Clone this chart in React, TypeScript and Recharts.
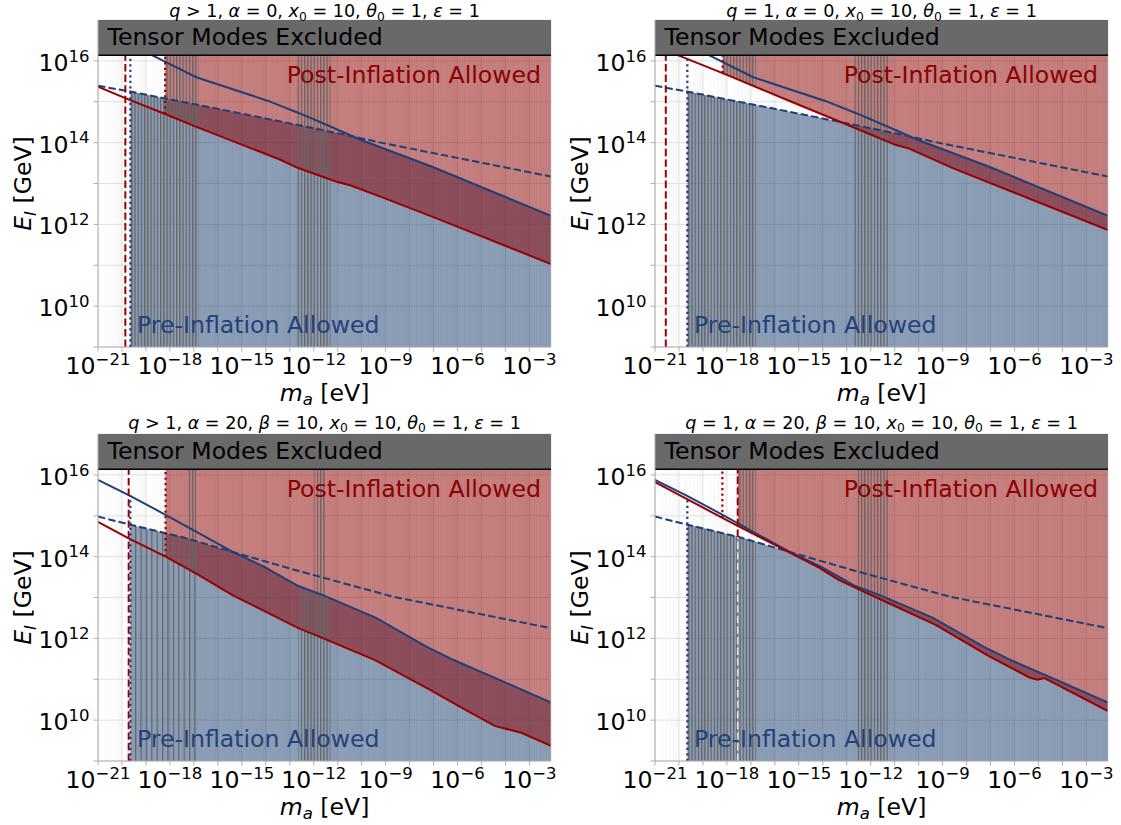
import React from 'react';
import { ComposedChart, Area, Line, XAxis, YAxis, CartesianGrid } from 'recharts';

type Pt = [number, number];
type BandPt = [number, number, number];
type Seg = [string, string?];

const FONT = "'DejaVu Sans', sans-serif";
const X_MIN = -21;
const X_MAX = -2.1;
const Y_MIN = 9;
const Y_MAX = 17;
const T_E = 16.14;

const X_TICKS = [-21, -20, -19, -18, -17, -16, -15, -14, -13, -12, -11, -10, -9, -8, -7, -6, -5, -4, -3];
const X_LABEL_TICKS = [-21, -18, -15, -12, -9, -6, -3];
const Y_TICKS = [9, 10, 11, 12, 13, 14, 15, 16];
const Y_LABEL_TICKS = [10, 12, 14, 16];

// ---- alpha = 0 panels (top row) ----
const DASH_ALPHA0: Pt[] = [[-21, 15.39], [-19.65, 15.25], [-18.2, 15.08], [-16.8, 14.92], [-13.4, 14.52], [-10.9, 14.22], [-9.2, 14.0], [-2.1, 13.17]];
const BLUE_ALPHA0: Pt[] = [[-18.75, 16.14], [-16.9, 15.6], [-13.9, 15.02], [-12.6, 14.72], [-11.4, 14.42], [-10.05, 14.07], [-7.06, 13.41], [-2.1, 12.21]];
const CROSS_ALPHA0: Pt = [-10.35, 14.15];
const RED_P1: Pt[] = [[-21, 15.37], [-19.86, 15.09], [-18.2, 14.7], [-16.87, 14.38], [-13.39, 13.58], [-12.7, 13.39], [-11.07, 13.05], [-10.45, 12.95], [-9.22, 12.68], [-7.06, 12.19], [-2.1, 11.03]];
const RED_P2: Pt[] = [[-20.05, 16.14], [-18.18, 15.7], [-15.51, 15.05], [-13.28, 14.51], [-10.94, 13.94], [-10.42, 13.86], [-8.55, 13.37], [-5.55, 12.67], [-2.1, 11.86]];

// ---- alpha = 20 panels (bottom row) ----
const DASH_ALPHA20: Pt[] = [[-21, 14.98], [-19.65, 14.78], [-17.5, 14.48], [-15.3, 14.1], [-12.7, 13.66], [-8.7, 13.02], [-2.1, 12.25]];
const BLUE_ALPHA20: Pt[] = [[-21, 15.88], [-19.7, 15.5], [-18.2, 15.03], [-17.5, 14.8], [-15.4, 14.12], [-14.1, 13.76], [-12.64, 13.28], [-11.67, 13.07], [-9.4, 12.5], [-7.3, 11.8], [-6.16, 11.47], [-4.23, 10.98], [-2.1, 10.43]];
const CROSS_ALPHA20: Pt = [-15.4, 14.12];
const RED_P3: Pt[] = [[-21, 14.85], [-19.74, 14.45], [-18.18, 14.0], [-16.88, 13.58], [-15.39, 13.06], [-12.64, 12.25], [-11.67, 12.02], [-9.44, 11.47], [-7.2, 10.76], [-5.72, 10.27], [-4.45, 9.86], [-3.34, 9.69], [-2.1, 9.37]];
const RED_P4: Pt[] = [[-21, 15.82], [-18.19, 14.95], [-17.55, 14.75], [-14.12, 13.72], [-13.34, 13.43], [-11.24, 12.86], [-9.29, 12.33], [-7.05, 11.56], [-5.4, 11.05], [-5.05, 10.99], [-4.75, 11.03], [-2.1, 10.22]];

// ---- vertical limit lines ----
const P1_RED_DASH: Pt[] = [[-19.86, 9], [-19.86, T_E]];
const P1_BLUE_DOT: Pt[] = [[-19.65, 9], [-19.65, T_E]];
const P1_RED_DOT: Pt[] = [[-18.2, 14.7], [-18.2, T_E]];
const P2_RED_DASH: Pt[] = [[-20.55, 9], [-20.55, T_E]];
const P2_BLUE_DOT: Pt[] = [[-19.65, 9], [-19.65, T_E]];
const P2_RED_DOT: Pt[] = [[-18.18, 15.7], [-18.18, T_E]];
const P3_RED_DASH: Pt[] = [[-19.72, 9], [-19.72, T_E]];
const P3_BLUE_DOT: Pt[] = [[-19.65, 9], [-19.65, 15.5]];
const P3_RED_DOT: Pt[] = [[-18.18, 14.0], [-18.18, T_E]];
const P4_RED_DASH: Pt[] = [[-17.55, 14.48], [-17.55, T_E]];
const P4_RED_DASH_LIGHT: Pt[] = [[-17.55, 9], [-17.55, 14.48]];
const P4_BLUE_DOT: Pt[] = [[-19.65, 9], [-19.65, 15.46]];
const P4_RED_DOT: Pt[] = [[-18.19, 14.95], [-18.19, T_E]];

// ---- excluded (hatched) mass windows: x, low, high ----
const P1_HATCH: BandPt[][] = [
  [[-19.65, 9, 15.25], [-18.2, 9, 15.08], [-16.8, 9, 14.92]],
  [[-18.2, 14.7, T_E], [-16.8, 14.36, T_E]],
  [[-12.71, 9, T_E], [-11.3, 9, T_E]],
];
const P2_HATCH: BandPt[][] = [
  [[-19.65, 9, 15.25], [-18.18, 9, 15.08], [-16.78, 9, 14.92]],
  [[-18.18, 15.7, T_E], [-16.78, 15.36, T_E]],
  [[-12.71, 9, T_E], [-11.28, 9, T_E]],
];
const P3_HATCH: BandPt[][] = [
  [[-17.25, 13.71, T_E], [-16.9, 13.61, T_E]],
  [[-12.64, 9, 13.28], [-11.67, 9, 13.07], [-11.3, 9, 12.98]],
  [[-11.97, 12.11, T_E], [-11.52, 11.99, T_E]],
];
const P3_HATCH_SPARSE: BandPt[][] = [
  [[-19.63, 9, 14.78], [-17.5, 9, 14.48], [-16.8, 9, 14.36]],
];
const P4_HATCH: BandPt[][] = [
  [[-19.62, 9, 14.79], [-17.5, 9, 14.48], [-16.78, 9, 14.36]],
  [[-17.55, 14.75, T_E], [-16.78, 14.52, T_E]],
  [[-12.59, 9, T_E], [-11.28, 9, T_E]],
];

const TITLE_TOP_LEFT: Seg[] = [['q', 'i'], [' > 1, '], ['α', 'i'], [' = 0, '], ['x', 'i'], ['0', 'sub'], [' = 10, '], ['θ', 'i'], ['0', 'sub'], [' = 1, '], ['ε', 'i'], [' = 1']];
const TITLE_TOP_RIGHT: Seg[] = [['q', 'i'], [' = 1, '], ['α', 'i'], [' = 0, '], ['x', 'i'], ['0', 'sub'], [' = 10, '], ['θ', 'i'], ['0', 'sub'], [' = 1, '], ['ε', 'i'], [' = 1']];
const TITLE_BOT_LEFT: Seg[] = [['q', 'i'], [' > 1, '], ['α', 'i'], [' = 20, '], ['β', 'i'], [' = 10, '], ['x', 'i'], ['0', 'sub'], [' = 10, '], ['θ', 'i'], ['0', 'sub'], [' = 1, '], ['ε', 'i'], [' = 1']];
const TITLE_BOT_RIGHT: Seg[] = [['q', 'i'], [' = 1, '], ['α', 'i'], [' = 20, '], ['β', 'i'], [' = 10, '], ['x', 'i'], ['0', 'sub'], [' = 10, '], ['θ', 'i'], ['0', 'sub'], [' = 1, '], ['ε', 'i'], [' = 1']];
const X_LABEL: Seg[] = [['m', 'i'], ['a', 'isub'], [' [eV]']];
const Y_LABEL: Seg[] = [['E', 'i'], ['I', 'isub'], [' [GeV]']];

const BLUE_LINE = '#1f3f78';
const RED_LINE = '#990000';
const BLUE_FILL = '#193b6d';
const RED_FILL = '#8b0000';
const TENSOR_FILL = '#696969';
const SPINE = '#b0b0b0';
const HATCH = '#656565';

const X_MINOR: number[] = [];
for (let d = -21; d < -2; d++) {
  for (let k = 2; k <= 9; k++) {
    const v = d + Math.log10(k);
    if (v < X_MAX) X_MINOR.push(v);
  }
}

interface PanelCfg {
  left: number;
  top: number;
  titleDrop: number;
  title: Seg[];
  dash: Pt[];
  blue: Pt[];
  red: Pt[];
  cross: Pt;
  preStart: number;
  postStart: number;
  redDash: Pt[];
  redDashLight: Pt[] | null;
  blueDot: Pt[];
  redDot: Pt[];
  hatch: BandPt[][];
  hatchSparse: BandPt[][];
}

const PANELS: PanelCfg[] = [
  { left: 0, top: 0, titleDrop: 3, title: TITLE_TOP_LEFT, dash: DASH_ALPHA0, blue: BLUE_ALPHA0, red: RED_P1, cross: CROSS_ALPHA0, preStart: -19.65, postStart: -18.2, redDash: P1_RED_DASH, redDashLight: null, blueDot: P1_BLUE_DOT, redDot: P1_RED_DOT, hatch: P1_HATCH, hatchSparse: [] },
  { left: 557, top: 0, titleDrop: 3, title: TITLE_TOP_RIGHT, dash: DASH_ALPHA0, blue: BLUE_ALPHA0, red: RED_P2, cross: CROSS_ALPHA0, preStart: -19.65, postStart: -18.18, redDash: P2_RED_DASH, redDashLight: null, blueDot: P2_BLUE_DOT, redDot: P2_RED_DOT, hatch: P2_HATCH, hatchSparse: [] },
  { left: 0, top: 414, titleDrop: 5.5, title: TITLE_BOT_LEFT, dash: DASH_ALPHA20, blue: BLUE_ALPHA20, red: RED_P3, cross: CROSS_ALPHA20, preStart: -19.65, postStart: -18.18, redDash: P3_RED_DASH, redDashLight: null, blueDot: P3_BLUE_DOT, redDot: P3_RED_DOT, hatch: P3_HATCH, hatchSparse: P3_HATCH_SPARSE },
  { left: 557, top: 414, titleDrop: 5.5, title: TITLE_BOT_RIGHT, dash: DASH_ALPHA20, blue: BLUE_ALPHA20, red: RED_P4, cross: CROSS_ALPHA20, preStart: -19.65, postStart: -17.55, redDash: P4_RED_DASH, redDashLight: P4_RED_DASH_LIGHT, blueDot: P4_BLUE_DOT, redDot: P4_RED_DOT, hatch: P4_HATCH, hatchSparse: [] },
];

const CHART_W = 560;
const CHART_H = 412;
const M_TOP = 20;
const M_RIGHT = 9;
const Y_AXIS_W = 98;
const X_AXIS_H = 65;

function mathTspans(segs: Seg[], fs: number) {
  const out: any[] = [];
  let shifted = false;
  const drop = fs * 0.2;
  segs.forEach(([txt, kind], i) => {
    const k = kind || 'n';
    const isSub = k === 'sub' || k === 'isub';
    const italic = k === 'i' || k === 'isub';
    let dy = 0;
    if (isSub && !shifted) { dy = drop; shifted = true; }
    else if (!isSub && shifted) { dy = -drop; shifted = false; }
    out.push(
      <tspan key={i} dy={dy !== 0 ? dy : undefined} fontSize={isSub ? fs * 0.7 : fs} fontStyle={italic ? 'italic' : 'normal'}>{txt}</tspan>
    );
  });
  return out;
}

const XTick = (props: any) => {
  const { x, y, payload } = props;
  const v = payload.value;
  const labeled = X_LABEL_TICKS.includes(v);
  return (
    <g>
      <line x1={x} x2={x} y1={y} y2={y + 4.5} stroke={SPINE} strokeWidth={1} />
      {labeled && (
        <text x={x} y={y + 26.5} textAnchor="middle" fontFamily={FONT} fontSize={23.6} fill="#000">
          10<tspan dy={-8.5} fontSize={16.5}>{'\u2212' + Math.abs(v)}</tspan>
        </text>
      )}
    </g>
  );
};

const YTick = (props: any) => {
  const { x, y, payload } = props;
  const v = payload.value;
  const labeled = Y_LABEL_TICKS.includes(v);
  return (
    <g>
      <line x1={x - 4.5} x2={x} y1={y} y2={y} stroke={SPINE} strokeWidth={1} />
      {labeled && (
        <text x={x - 8.5} y={y + 10} textAnchor="end" fontFamily={FONT} fontSize={23.6} fill="#000">
          10<tspan dy={-9.3} fontSize={16.5}>{String(v)}</tspan>
        </text>
      )}
    </g>
  );
};

const xy = (pts: Pt[]) => pts.map(([x, y]) => ({ x, y }));

function Panel({ cfg }: { cfg: PanelCfg }) {
  const preTop: Pt[] = [
    ...cfg.dash.filter((p) => p[0] >= cfg.preStart && p[0] < cfg.cross[0]),
    cfg.cross,
    ...cfg.blue.filter((p) => p[0] > cfg.cross[0]),
  ];
  const preData = preTop.map(([x, y]) => ({ x, r: [Y_MIN, y] }));
  const postData = cfg.red.filter((p) => p[0] >= cfg.postStart).map(([x, y]) => ({ x, r: [y, T_E] }));
  const tensorData = [{ x: X_MIN, r: [T_E, Y_MAX] }, { x: X_MAX, r: [T_E, Y_MAX] }];
  const tensorLine = [{ x: X_MIN, y: T_E }, { x: X_MAX, y: T_E }];
  const rightSpine = [{ x: X_MAX, y: Y_MIN }, { x: X_MAX, y: T_E }];

  return (
    <div style={{ position: 'absolute', left: cfg.left, top: cfg.top, width: CHART_W, height: CHART_H }}>
      <ComposedChart width={CHART_W} height={CHART_H} margin={{ top: M_TOP, right: M_RIGHT, bottom: 0, left: 0 }}>
        <CartesianGrid stroke="#f3f3f3" strokeWidth={0.7} horizontal={false} verticalValues={X_MINOR} />
        <CartesianGrid stroke="#dcdcdc" strokeWidth={0.9} />
        <XAxis
          type="number"
          dataKey="x"
          domain={[X_MIN, X_MAX]}
          ticks={X_TICKS}
          interval={0}
          allowDataOverflow
          height={X_AXIS_H}
          tick={<XTick />}
          tickLine={false}
          tickSize={0}
          tickMargin={0}
          axisLine={{ stroke: SPINE }}
        />
        <YAxis
          type="number"
          domain={[Y_MIN, Y_MAX]}
          ticks={Y_TICKS}
          interval={0}
          allowDataOverflow
          width={Y_AXIS_W}
          tick={<YTick />}
          tickLine={false}
          tickSize={0}
          tickMargin={0}
          axisLine={{ stroke: SPINE }}
        />
        <Area data={preData} dataKey="r" type="linear" fill={BLUE_FILL} fillOpacity={0.5} stroke="none" isAnimationActive={false} />
        <Area data={postData} dataKey="r" type="linear" fill={RED_FILL} fillOpacity={0.5} stroke="none" isAnimationActive={false} />
        {cfg.hatch.map((band, i) => (
          <Area key={'h' + i} data={band.map(([x, lo, hi]) => ({ x, r: [lo, hi] }))} dataKey="r" type="linear" fill="url(#hatchDense)" fillOpacity={1} stroke="none" isAnimationActive={false} />
        ))}
        {cfg.hatchSparse.map((band, i) => (
          <Area key={'s' + i} data={band.map(([x, lo, hi]) => ({ x, r: [lo, hi] }))} dataKey="r" type="linear" fill="url(#hatchSparse)" fillOpacity={1} stroke="none" isAnimationActive={false} />
        ))}
        <Area data={tensorData} dataKey="r" type="linear" fill={TENSOR_FILL} fillOpacity={1} stroke="none" isAnimationActive={false} />
        <Line data={xy(cfg.dash)} dataKey="y" type="linear" stroke={BLUE_LINE} strokeWidth={2} strokeDasharray="7.4 3.2" dot={false} isAnimationActive={false} />
        <Line data={xy(cfg.blue)} dataKey="y" type="linear" stroke={BLUE_LINE} strokeWidth={2} dot={false} isAnimationActive={false} />
        <Line data={xy(cfg.red)} dataKey="y" type="linear" stroke={RED_LINE} strokeWidth={2} dot={false} isAnimationActive={false} />
        <Line data={xy(cfg.redDash)} dataKey="y" type="linear" stroke={RED_LINE} strokeWidth={2} strokeDasharray="7.4 3.2" dot={false} isAnimationActive={false} />
        {cfg.redDashLight && (
          <Line data={xy(cfg.redDashLight)} dataKey="y" type="linear" stroke="#e4e4e4" strokeWidth={1.6} strokeDasharray="7.4 3.2" dot={false} isAnimationActive={false} />
        )}
        <Line data={xy(cfg.blueDot)} dataKey="y" type="linear" stroke={BLUE_LINE} strokeWidth={2.2} strokeDasharray="2.2 3.3" dot={false} isAnimationActive={false} />
        <Line data={xy(cfg.redDot)} dataKey="y" type="linear" stroke={RED_LINE} strokeWidth={2.2} strokeDasharray="2.2 3.3" dot={false} isAnimationActive={false} />
        <Line data={rightSpine} dataKey="y" type="linear" stroke={SPINE} strokeWidth={1} dot={false} isAnimationActive={false} />
        <Line data={tensorLine} dataKey="y" type="linear" stroke="#000" strokeWidth={1.5} dot={false} isAnimationActive={false} />
      </ComposedChart>
    </div>
  );
}

function PanelText({ cfg }: { cfg: PanelCfg }) {
  const pl = cfg.left + Y_AXIS_W;
  const pr = cfg.left + CHART_W - M_RIGHT;
  const pt = cfg.top + M_TOP;
  const pb = cfg.top + CHART_H - X_AXIS_H;
  const cx = (pl + pr) / 2;
  const cy = (pt + pb) / 2;
  return (
    <g fontFamily={FONT} style={{ whiteSpace: 'pre' }}>
      <text x={cx} y={pt - cfg.titleDrop} textAnchor="middle" fill="#000">{mathTspans(cfg.title, 17.6)}</text>
      <text x={cx} y={pt + 380.7} textAnchor="middle" fill="#000">{mathTspans(X_LABEL, 23.6)}</text>
      <text transform={`translate(${pl - 67.2}, ${cy}) rotate(-90)`} textAnchor="middle" fill="#000">{mathTspans(Y_LABEL, 23.6)}</text>
      <text x={pl + 9.5} y={pt + 25.3} fontSize={23.6} fill="#000">Tensor Modes Excluded</text>
      <text x={pr - 10} y={pt + 63.3} fontSize={23.6} textAnchor="end" fill="#8b0000">Post-Inflation Allowed</text>
      <text x={pl + 39} y={pb - 14} fontSize={23.6} fill="#24427a">Pre-Inflation Allowed</text>
    </g>
  );
}

export default function App() {
  return (
    <div style={{ position: 'absolute', left: 0, top: 0, width: 1121, height: 825, background: '#fff', overflow: 'hidden' }}>
      <svg width={0} height={0} style={{ position: 'absolute' }}>
        <defs>
          <pattern id="hatchDense" patternUnits="userSpaceOnUse" width={3.2} height={8}>
            <rect x={0} y={0} width={1.25} height={8} fill={HATCH} />
          </pattern>
          <pattern id="hatchSparse" patternUnits="userSpaceOnUse" width={5.4} height={8}>
            <rect x={0} y={0} width={1.25} height={8} fill={HATCH} />
          </pattern>
        </defs>
      </svg>
      {PANELS.map((cfg, i) => (
        <Panel key={i} cfg={cfg} />
      ))}
      <svg width={1121} height={825} style={{ position: 'absolute', left: 0, top: 0, pointerEvents: 'none' }}>
        {PANELS.map((cfg, i) => (
          <PanelText key={i} cfg={cfg} />
        ))}
      </svg>
    </div>
  );
}
